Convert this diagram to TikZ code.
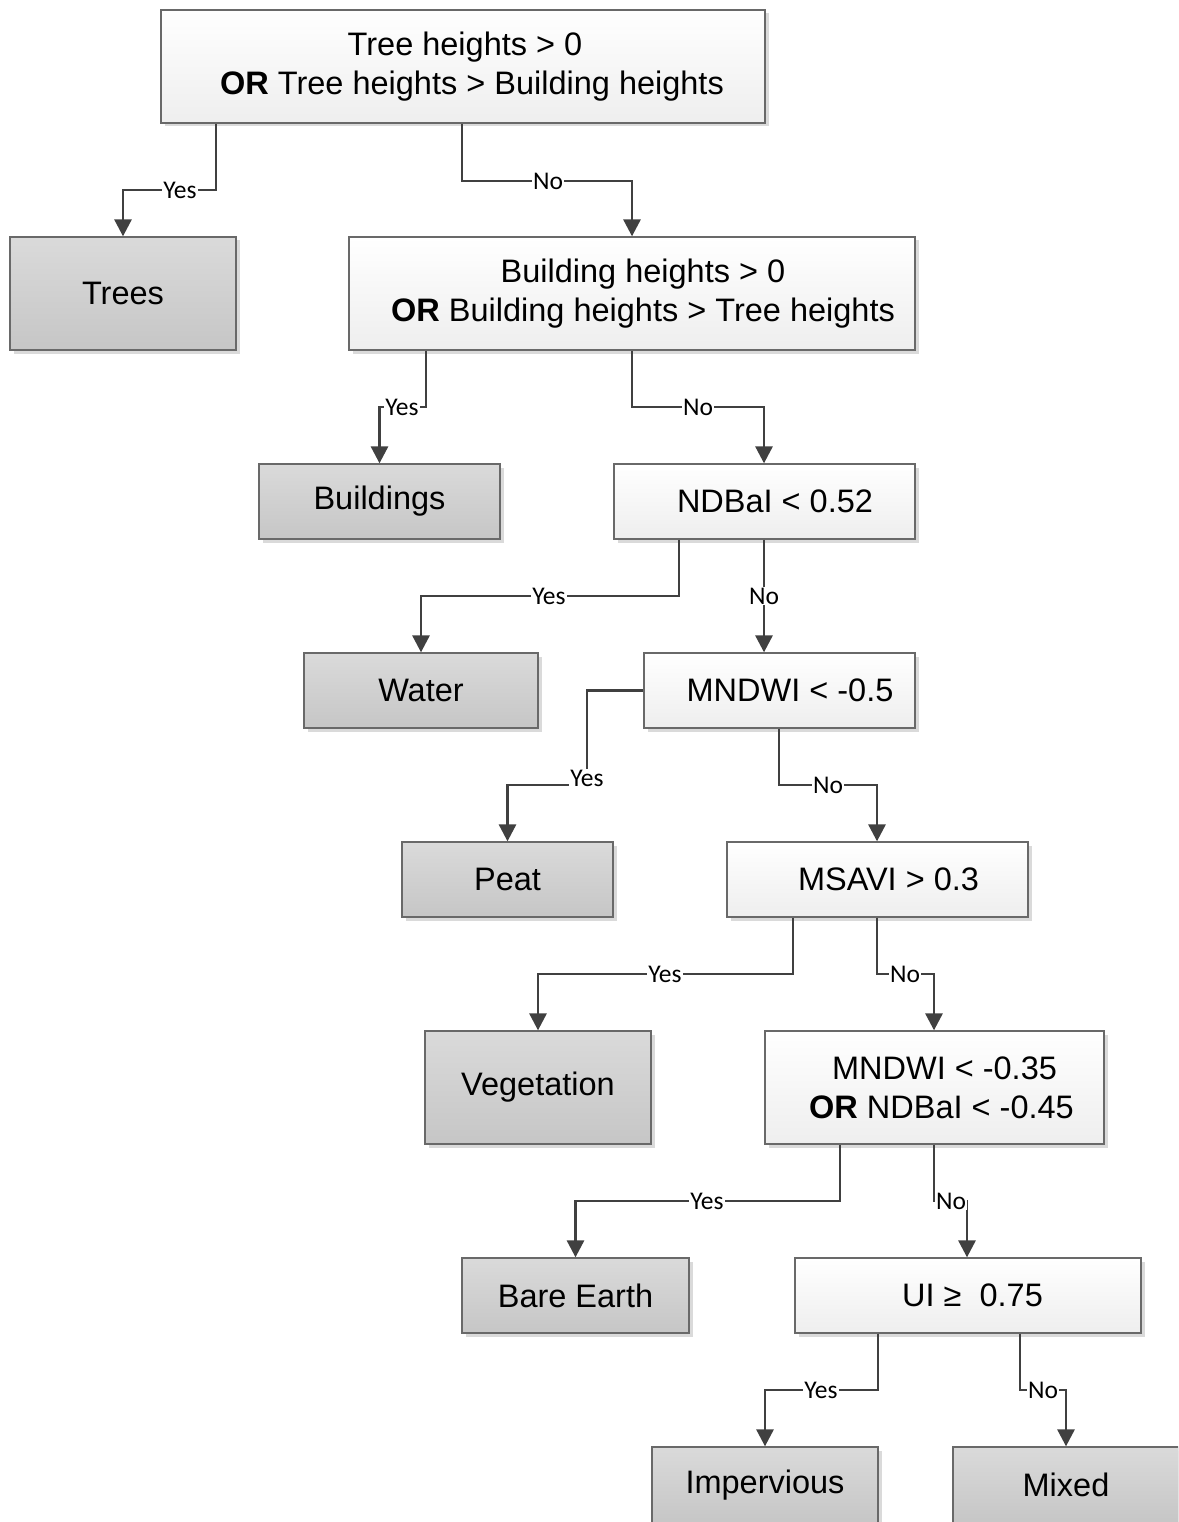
\documentclass[tikz,border=0pt]{standalone}
\usepackage{fontspec}
\setmainfont{Liberation Sans}
\newfontfamily\lblfont{Carlito}
\usetikzlibrary{arrows.meta,shadows}

\definecolor{edgegray}{RGB}{105,105,105}
\definecolor{linegray}{RGB}{64,64,64}
\definecolor{decbot}{RGB}{238,238,238}
\definecolor{leaftop}{RGB}{218,218,218}
\definecolor{leafbot}{RGB}{198,198,198}
\definecolor{shadowgray}{RGB}{218,218,218}

\tikzset{
  box/.style={draw=edgegray, line width=1.3pt, rectangle, inner sep=0pt,
    align=center, font=\fontsize{32.5}{39}\selectfont,
    drop shadow={shadow xshift=3.5pt, shadow yshift=-3.5pt, fill=shadowgray, opacity=1}},
  decision/.style={box, top color=white, bottom color=decbot},
  leaf/.style={box, top color=leaftop, bottom color=leafbot},
  flow/.style={draw=linegray, line width=2.9pt,
    -{Triangle[width=17pt,length=17pt]}},
  lbl/.style={fill=white, inner sep=1pt, text=black,
    font=\lblfont\fontsize{25.5}{25.5}\selectfont}
}

\begin{document}
\begin{tikzpicture}[x=1pt,y=-1pt]
\useasboundingbox (0,0) rectangle (1178,1522);
\clip (0,0) rectangle (1178,1522);

% decision boxes
\node[decision, minimum width=604pt, minimum height=113pt] (top) at (463,66.5)
  {\hspace*{4pt}Tree heights > 0\\ \hspace*{18pt}\textbf{OR} Tree heights > Building heights};
\node[decision, minimum width=566pt, minimum height=113pt] (bld) at (632,293.5)
  {\hspace*{22pt}Building heights > 0\\ \hspace*{22pt}\textbf{OR} Building heights > Tree heights};
\node[decision, minimum width=301pt, minimum height=75pt] (ndbai) at (764.5,501.5)
  {\hspace*{21pt}NDBaI < 0.52};
\node[decision, minimum width=271pt, minimum height=75pt] (mndwi) at (779.5,690.5)
  {\hspace*{21pt}MNDWI < -0.5};
\node[decision, minimum width=301pt, minimum height=75pt] (msavi) at (877.5,879.5)
  {\hspace*{22pt}MSAVI > 0.3};
\node[decision, minimum width=339pt, minimum height=113pt] (mndwib) at (934.5,1087.5)
  {\hspace*{20pt}MNDWI < -0.35\\ \hspace*{14pt}\textbf{OR} NDBaI < -0.45};
\node[decision, minimum width=346pt, minimum height=75pt] (ui) at (968,1295.5)
  {\hspace*{9pt}UI ≥\ \ 0.75};

% class boxes
\node[leaf, minimum width=226pt, minimum height=113pt] (trees) at (123,293.5) {Trees};
\node[leaf, minimum width=241pt, minimum height=75pt] (bldgs) at (379.5,501.5) {Buildings};
\node[leaf, minimum width=234pt, minimum height=75pt] (water) at (421,690.5) {Water};
\node[leaf, minimum width=211pt, minimum height=75pt] (peat) at (507.5,879.5) {Peat};
\node[leaf, minimum width=226pt, minimum height=113pt] (veg) at (538,1087.5) {Vegetation};
\node[leaf, minimum width=227pt, minimum height=75pt] (bare) at (575.5,1295.5) {Bare Earth};
\node[leaf, minimum width=226pt, minimum height=76pt] (imp) at (765,1485) {Impervious};
\node[leaf, minimum width=226pt, minimum height=76pt] (mixed) at (1066,1485) {Mixed};

% connectors
\draw[flow] (216,0 |- top.south) -- (216,190) -- (trees.north |- 0,190) -- (trees.north);
\draw[flow] (462,0 |- top.south) -- (462,181) -- (632,181) -- (632,0 |- bld.north);
\draw[flow] (426,0 |- bld.south) -- (426,407) -- (bldgs.north |- 0,407) -- (bldgs.north);
\draw[flow] (632,0 |- bld.south) -- (632,407) -- (764,407) -- (764,0 |- ndbai.north);
\draw[flow] (679,0 |- ndbai.south) -- (679,596) -- (water.north |- 0,596) -- (water.north);
\draw[flow] (764,0 |- ndbai.south) -- (764,0 |- mndwi.north);
\draw[flow] (mndwi.west) -- (587,0 |- mndwi.west) -- (587,785) -- (peat.north |- 0,785) -- (peat.north);
\draw[flow] (779,0 |- mndwi.south) -- (779,785) -- (877,785) -- (877,0 |- msavi.north);
\draw[flow] (793,0 |- msavi.south) -- (793,974) -- (veg.north |- 0,974) -- (veg.north);
\draw[flow] (877,0 |- msavi.south) -- (877,974) -- (934,974) -- (934,0 |- mndwib.north);
\draw[flow] (840,0 |- mndwib.south) -- (840,1201) -- (bare.north |- 0,1201) -- (bare.north);
\draw[flow] (934,0 |- mndwib.south) -- (934,1201) -- (967,1201) -- (967,0 |- ui.north);
\draw[flow] (878,0 |- ui.south) -- (878,1390) -- (imp.north |- 0,1390) -- (imp.north);
\draw[flow] (1020,0 |- ui.south) -- (1020,1390) -- (1066,1390) -- (mixed.north);

% branch labels
\node[lbl] (y1) at (180,190) {Yes};
\node[lbl] (n1) at (548,181) {No};
\node[lbl] (y2) at (402,407) {Yes};
\node[lbl] (n2) at (698,407) {No};
\node[lbl] (y3) at (549,596) {Yes};
\node[lbl] (n3) at (764,596) {No};
\node[lbl] (y4) at (587,778) {Yes};
\node[lbl] (n4) at (828,785) {No};
\node[lbl] (y5) at (665,974) {Yes};
\node[lbl] (n5) at (905,974) {No};
\node[lbl] (y6) at (707,1201) {Yes};
\node[lbl] (n6) at (951,1201) {No};
\node[lbl] (y7) at (821,1390) {Yes};
\node[lbl] (n7) at (1043,1390) {No};
\end{tikzpicture}
\end{document}
